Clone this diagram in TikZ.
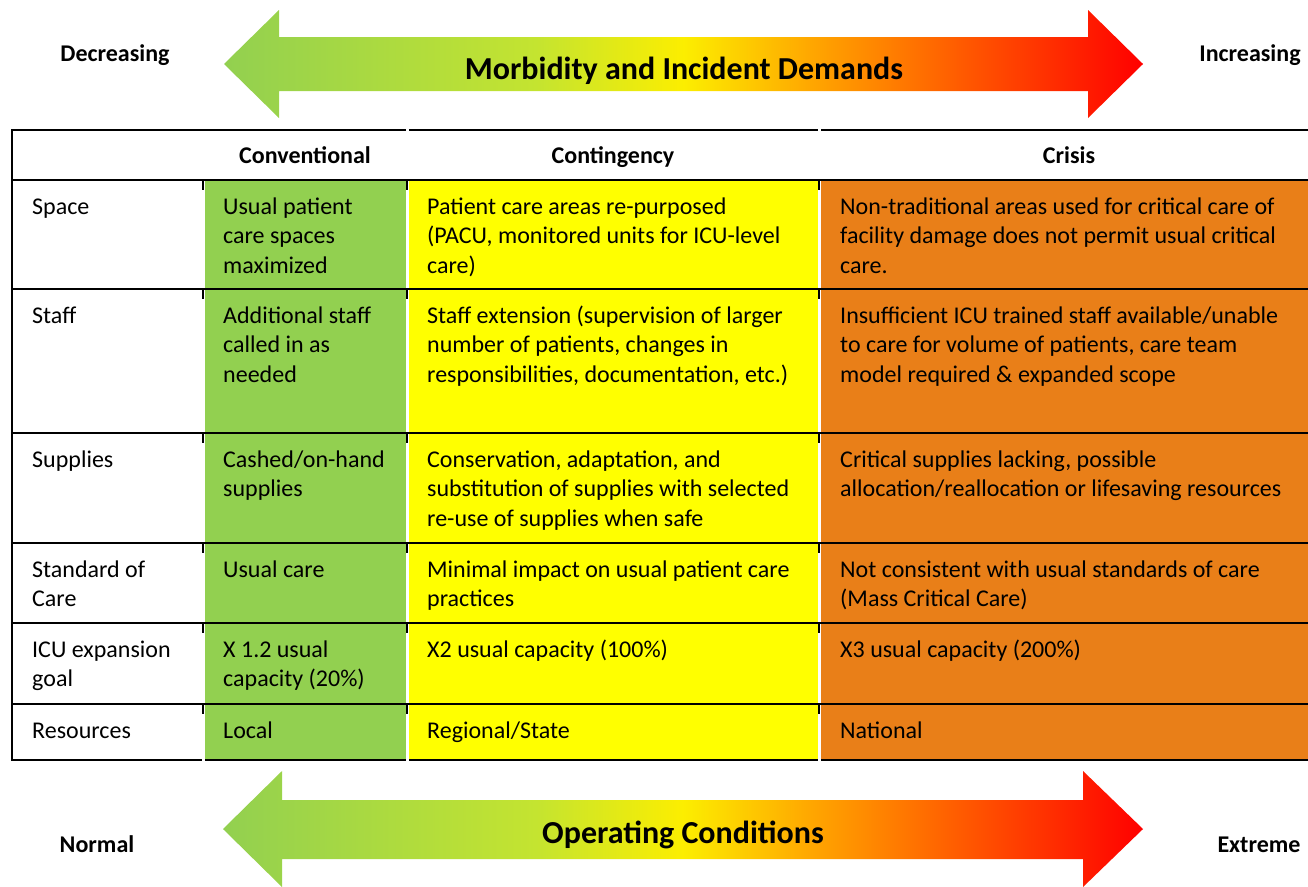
\documentclass[tikz,border=0pt]{standalone}
\usepackage{fontspec}
\setmainfont{Carlito}
\usepackage{tikz}
\usetikzlibrary{shapes.geometric}

\definecolor{convgreen}{RGB}{146,208,80}
\definecolor{contyellow}{RGB}{255,255,0}
\definecolor{crisorange}{RGB}{233,127,24}
\definecolor{gradA}{RGB}{196,228,48}
\definecolor{gradB}{RGB}{252,238,0}
\definecolor{gradC}{RGB}{255,166,0}
\definecolor{gradD}{RGB}{255,82,0}
\definecolor{gradE}{RGB}{255,0,0}

\pgfdeclarehorizontalshading{demandshade}{100bp}{color(0bp)=(convgreen); color(25bp)=(convgreen); color(42bp)=(gradA); color(50bp)=(gradB); color(57bp)=(gradC); color(66bp)=(gradD); color(75bp)=(gradE); color(100bp)=(gradE)}

\tikzset{
	tline/.style={line width=1.7pt, black},
	tick/.style={line width=2pt, black},
	cell/.style={anchor=north west, align=left, inner sep=0pt, font=\fontsize{24}{29.5}\selectfont},
	head/.style={anchor=base, inner sep=0pt, font=\fontsize{24}{29}\selectfont\bfseries},
	side/.style={anchor=base, inner sep=0pt, font=\fontsize{24}{29}\selectfont\bfseries},
	title/.style={anchor=base, inner sep=0pt, font=\fontsize{32}{38}\selectfont\bfseries}
}

\begin{document}
\begin{tikzpicture}[x=1pt, y=-1pt]
	\useasboundingbox (0, 0) rectangle (1308, 886);
	% Arrows:
	\shade[shading=demandshade] (224, 64) -- (279, 10) -- (279, 37) -- (1088, 37) -- (1088, 10) -- (1143, 64) -- (1088, 118) -- (1088, 91) -- (279, 91) -- (279, 118) -- cycle;
	\shade[shading=demandshade] (223, 829) -- (282, 771) -- (282, 800) -- (1083, 800) -- (1083, 771) -- (1143, 829) -- (1083, 887) -- (1083, 859) -- (282, 859) -- (282, 887) -- cycle;
	\node[side](dec) at (115, 61){Decreasing};
	\node[side](inc) at (1250, 61){Increasing};
	\node[title](morb) at (684, 79){Morbidity and Incident Demands};
	\node[side](norm) at (97, 852){Normal};
	\node[side](extr) at (1259, 852){Extreme};
	\node[title](oper) at (683, 843){Operating Conditions};
	% Cell colours:
	\fill[convgreen] (205, 180) rectangle (406, 760);
	\fill[contyellow] (409, 180) rectangle (818, 760);
	\fill[crisorange] (821, 180) rectangle (1308, 760);
	% Rules:
	\draw[tline] (12, 130) -- (406, 130) (409, 130) -- (818, 130) (821, 130) -- (1308, 130);
	\foreach \y in {180, 289, 433, 543, 623, 704}{
		\draw[tline] (12, \y) -- (1308, \y);
		\foreach \x in {203, 406.5, 819}
			\draw[tick] (\x, \y) -- (\x, \y+10);
	}
	\draw[tline] (12, 760) -- (202, 760) (205, 760) -- (406, 760) (409, 760) -- (818, 760) (821, 760) -- (1308, 760);
	\draw[tline] (12, 129.15) -- (12, 760.85);
	% Header:
	\node[head](hconv) at (305, 163){Conventional};
	\node[head](hcont) at (613, 163){Contingency};
	\node[head](hcris) at (1069, 163){Crisis};
	% Space
	\node[cell](r1l) at (32, 193.4){\strut Space};
	\node[cell](r1a) at (223, 193.4){\strut Usual patient\\care spaces\\maximized};
	\node[cell](r1b) at (427, 193.4){\strut Patient care areas re-purposed\\(PACU, monitored units for ICU-level\\care)};
	\node[cell](r1c) at (840, 193.4){\strut Non-traditional areas used for critical care of\\facility damage does not permit usual critical\\care.};
	% Staff
	\node[cell](r2l) at (32, 302.4){\strut Staff};
	\node[cell](r2a) at (223, 302.4){\strut Additional staff\\called in as\\needed};
	\node[cell](r2b) at (427, 302.4){\strut Staff extension (supervision of larger\\number of patients, changes in\\responsibilities, documentation, etc.)};
	\node[cell](r2c) at (840, 302.4){\strut Insufficient ICU trained staff available/unable\\to care for volume of patients, care team\\model required \& expanded scope};
	% Supplies
	\node[cell](r3l) at (32, 446.4){\strut Supplies};
	\node[cell](r3a) at (223, 446.4){\strut Cashed/on-hand\\supplies};
	\node[cell](r3b) at (427, 446.4){\strut Conservation, adaptation, and\\substitution of supplies with selected\\re-use of supplies when safe};
	\node[cell](r3c) at (840, 446.4){\strut Critical supplies lacking, possible\\allocation/reallocation or lifesaving resources};
	% Standard of care
	\node[cell](r4l) at (32, 556.4){\strut Standard of\\Care};
	\node[cell](r4a) at (223, 556.4){\strut Usual care};
	\node[cell](r4b) at (427, 556.4){\strut Minimal impact on usual patient care\\practices};
	\node[cell](r4c) at (840, 556.4){\strut Not consistent with usual standards of care\\(Mass Critical Care)};
	% ICU expansion
	\node[cell](r5l) at (32, 636.4){\strut ICU expansion\\goal};
	\node[cell](r5a) at (223, 636.4){\strut X 1.2 usual\\capacity (20\%)};
	\node[cell](r5b) at (427, 636.4){\strut X2 usual capacity (100\%)};
	\node[cell](r5c) at (840, 636.4){\strut X3 usual capacity (200\%)};
	% Resources
	\node[cell](r6l) at (32, 717.4){\strut Resources};
	\node[cell](r6a) at (223, 717.4){\strut Local};
	\node[cell](r6b) at (427, 717.4){\strut Regional/State};
	\node[cell](r6c) at (840, 717.4){\strut National};
\end{tikzpicture}
\end{document}
